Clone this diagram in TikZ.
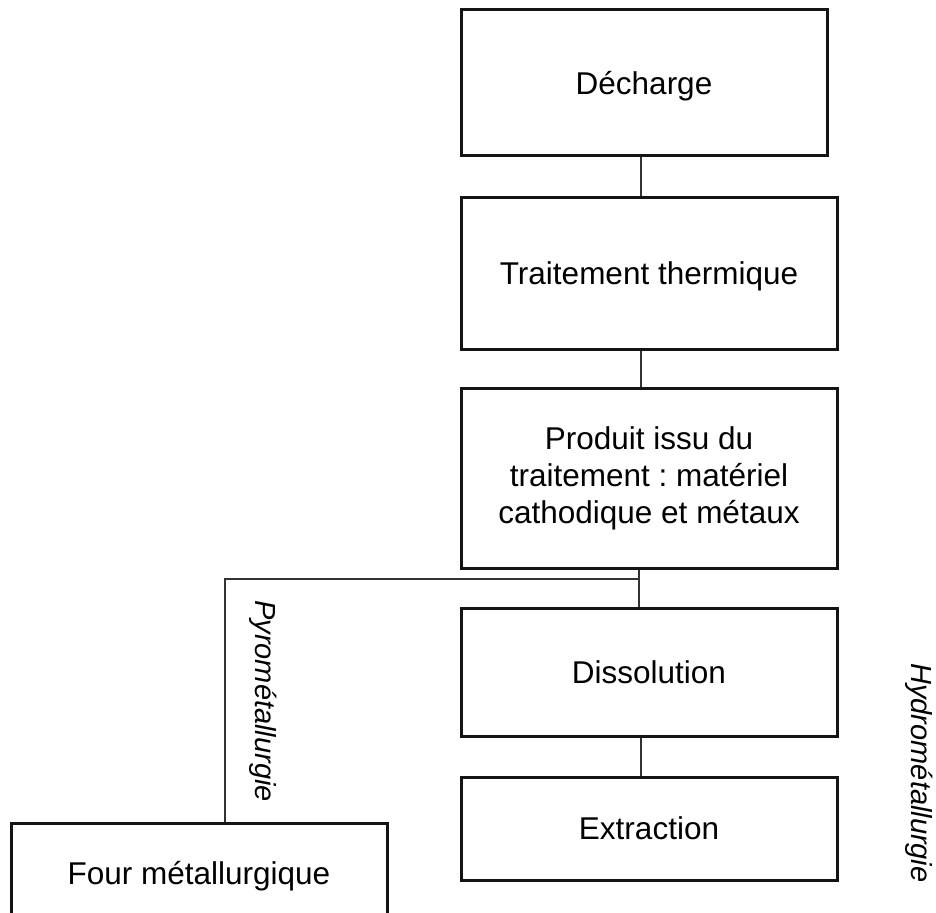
\documentclass[tikz,border=0pt]{standalone}
\usepackage{fontspec}
\setmainfont{Liberation Sans}
\frenchspacing
\begin{document}
\begin{tikzpicture}[x=1pt,y=-1pt,
  stepbox/.style={draw=black!92, line width=3pt, inner sep=0pt, align=center,
    font=\fontsize{31.5}{37}\selectfont, text height=22.6pt, text depth=0pt},
  multibox/.style={draw=black!92, line width=3pt, inner sep=0pt, align=center,
    font=\fontsize{31.5}{37}\selectfont},
  link/.style={draw=black!80, line width=1.2pt},
  branchlabel/.style={rotate=-90, inner sep=0pt, font=\fontsize{29}{34}\selectfont\itshape}]
\useasboundingbox (0,0) rectangle (936,912);
\clip (0,0) rectangle (936,912);
\fill[white] (0,0) rectangle (936,912);

\node[stepbox, minimum width=366pt, minimum height=146pt] (dech) at (644,83) {Décharge};
\node[stepbox, minimum width=376pt, minimum height=152pt] (trait) at (649,273) {Traitement thermique};
\node[multibox, minimum width=376pt, minimum height=180pt] (prod) at (649,478)
  {Produit issu du\\traitement : matériel\\cathodique et métaux};
\node[stepbox, minimum width=376pt, minimum height=128pt] (diss) at (649,672) {Dissolution};
\node[stepbox, minimum width=376pt, minimum height=103pt] (extr) at (649,828.5) {Extraction};
\node[stepbox, minimum width=376pt, minimum height=100pt] (four) at (199,873) {Four métallurgique};

\coordinate (cx) at (641,0);
\coordinate (br) at (639,579);
\coordinate (bl) at (225,579);

\draw[link] (dech.south -| cx) -- (trait.north -| cx);
\draw[link] (trait.south -| cx) -- (prod.north -| cx);
\draw[link] (prod.south -| br) -- (diss.north -| br);
\draw[link] (br) -- (bl) -- (bl |- four.north);
\draw[link] (diss.south -| cx) -- (extr.north -| cx);

\node[branchlabel] (pyro) at (263,701) {Pyrométallurgie};
\node[branchlabel] (hydro) at (919,773) {Hydrométallurgie};
\end{tikzpicture}
\end{document}
